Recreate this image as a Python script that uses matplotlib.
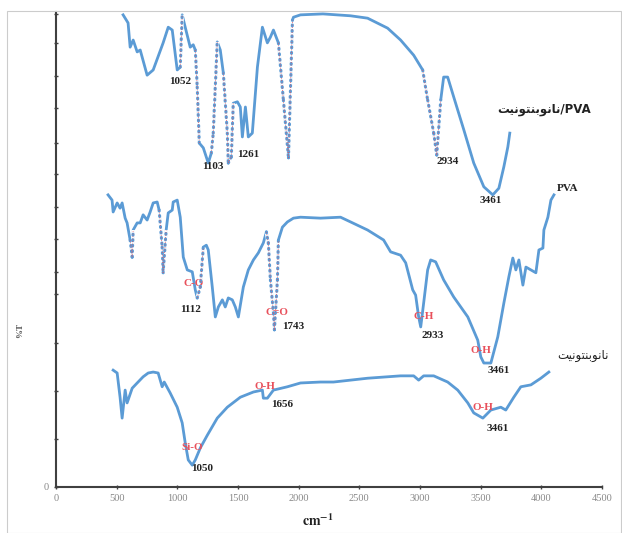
import matplotlib
matplotlib.use("Agg")
import matplotlib.pyplot as plt
from matplotlib.patches import Rectangle

# wavenumber (cm-1) and transmittance values
pva_nano_wn = [553, 594, 611, 636, 669, 694, 751, 801, 883, 925, 958, 999, 1024, 1040, 1065,
               1106, 1131, 1148, 1164, 1181, 1214, 1255, 1280, 1296, 1329, 1354, 1379, 1412,
               1420, 1445, 1461, 1495, 1519, 1536, 1561, 1585, 1618, 1660, 1701, 1742, 1767,
               1792, 1833, 1874, 1916, 1949, 1957, 2015, 2200, 2428, 2568, 2733, 2840, 2948,
               3022, 3063, 3113, 3138, 3171, 3195, 3228, 3278, 3361, 3443, 3526, 3600, 3650,
               3691, 3724, 3740]
pva_nano_t = [99.4, 97.7, 92.6, 94.1, 91.6, 92.0, 86.7, 87.8, 93.5, 96.8, 96.2, 87.8, 88.4, 99.4,
              96.8, 92.6, 93.1, 92.0, 84.2, 72.4, 71.4, 68.2, 70.3, 74.5, 93.7, 92.0, 87.2, 74.5,
              68.2, 69.5, 80.8, 81.1, 80.0, 73.7, 80.0, 73.7, 74.5, 88.4, 96.8, 93.5, 94.7,
              96.2, 93.5, 81.5, 69.3, 98.3, 98.9, 99.4, 99.6, 99.2, 98.7, 96.6, 94.1, 90.9,
              87.8, 81.5, 74.5, 69.9, 81.5, 86.3, 86.3, 82.1, 75.2, 68.2, 63.2, 61.5, 62.9,
              67.4, 71.6, 74.5]

pva_wn = [429, 462, 471, 504, 528, 545, 570, 586, 611, 628, 636, 669, 694, 718, 751, 776, 801,
          834, 850, 875, 883, 908, 925, 958, 966, 999, 1024, 1049, 1082, 1123, 1148, 1164,
          1189, 1214, 1239, 1255, 1288, 1313, 1338, 1371, 1395, 1420, 1453, 1478, 1503, 1544,
          1585, 1627, 1668, 1709, 1734, 1750, 1767, 1792, 1800, 1825, 1833, 1866, 1907, 1957,
          2015, 2180, 2345, 2428, 2568, 2700, 2758, 2840, 2882, 2940, 2964, 2989, 3006, 3030,
          3063, 3088, 3129, 3195, 3278, 3394, 3476, 3501, 3526, 3584, 3641, 3691, 3732, 3765,
          3790, 3815, 3848, 3873, 3914, 3955, 3980, 4013, 4021, 4054, 4079, 4104]
pva_t = [61.5, 60.4, 57.9, 59.8, 58.7, 59.8, 56.6, 55.6, 52.0, 48.4, 54.1, 55.6, 55.6, 57.3,
         56.2, 57.9, 59.8, 60.0, 58.3, 50.5, 45.1, 54.1, 57.7, 58.3, 60.0, 60.4, 56.8, 48.4,
         45.7, 45.3, 41.5, 39.8, 42.1, 50.5, 50.9, 49.9, 42.1, 35.8, 37.9, 39.4, 37.9, 39.8,
         39.4, 37.9, 35.8, 42.1, 45.7, 47.8, 49.3, 51.4, 53.7, 51.4, 43.6, 36.6, 33.1, 43.6,
         52.0, 54.7, 55.8, 56.6, 56.8, 56.6, 56.8, 55.8, 54.1, 52.0, 49.5, 48.8, 47.2, 41.5,
         40.4, 35.8, 33.7, 38.7, 45.7, 47.8, 47.4, 43.6, 40.0, 35.8, 30.9, 27.4, 26.1, 26.1,
         31.6, 38.7, 44.2, 48.2, 45.7, 47.8, 42.5, 46.3, 45.7, 45.1, 49.9, 50.3, 54.1, 56.8,
         60.4, 61.5]

nano_wn = [471, 504, 528, 545, 570, 586, 628, 669, 718, 760, 801, 842, 875, 892, 941, 999, 1040,
           1065, 1090, 1123, 1148, 1189, 1247, 1329, 1412, 1519, 1627, 1701, 1709, 1742, 1792,
           1907, 2015, 2180, 2287, 2568, 2840, 2948, 2989, 3030, 3113, 3228, 3311, 3394, 3443,
           3518, 3584, 3666, 3707, 3773, 3831, 3914, 3996, 4062]
nano_t = [24.6, 24.0, 18.9, 14.5, 20.4, 17.7, 20.8, 21.9, 23.2, 24.0, 24.2, 24.0, 21.1, 22.1,
          19.8, 16.8, 13.5, 9.3, 5.7, 4.6, 5.7, 8.2, 10.9, 14.5, 16.8, 18.9, 20.0, 20.4, 18.7,
          18.7, 20.4, 21.1, 21.9, 22.1, 22.1, 22.9, 23.4, 23.4, 22.5, 23.4, 23.4, 22.1, 20.4,
          17.7, 15.6, 14.5, 16.2, 16.8, 16.2, 18.9, 21.1, 21.5, 22.9, 24.2]

# wavenumber stretches where the original trace is dotted (sparse points, red guide)
pva_nano_dotted = [(1024, 1040), (1148, 1181), (1280, 1329), (1379, 1461), (1833, 1949),
                   (3022, 3171)]
pva_dotted = [(611, 636), (850, 908), (1164, 1214), (1734, 1833)]
nano_dotted = []

# Persian word (نانوبنتونیت) written in shaped, visual order
nano_name = "\ufe96\ufef4\ufee7\ufeee\ufe98\ufee8\ufe91\ufeee\ufee7\ufe8e\ufee7"

peak_labels = [("1052", 1024, 85.3), ("1103", 1296, 67.4), ("1261", 1585, 69.9),
               ("2934", 3228, 68.6), ("3461", 3584, 60.4),
               ("1112", 1106, 37.3), ("1743", 1957, 33.7), ("2933", 3105, 32.0),
               ("3461", 3650, 24.6), ("1656", 1866, 17.3), ("1050", 1206, 3.8),
               ("3461", 3641, 12.4)]
bond_labels = [("C-O", 1131, 42.9), ("C=O", 1825, 36.8), ("C-H", 3030, 35.8),
               ("O-H", 3501, 28.8), ("O-H", 1726, 21.1), ("Si-O", 1123, 8.4),
               ("O-H", 3518, 16.8)]

yticks = [0, 10.1, 20.2, 30.3, 40.6, 45.3, 52.2, 58.9, 65.9, 72.4, 79.8, 86.5, 93.5, 99.6]

plt.rcParams['mathtext.fontset'] = 'stix'
blue = '#5b9bd5'
red = '#e8505b'

fig = plt.figure(figsize=(6.22, 5.33), dpi=100)
fig.patches.append(Rectangle((7 / 622, 0), 614 / 622, 1 - 11 / 533, transform=fig.transFigure,
                             fill=False, edgecolor='#cccccc', linewidth=0.8))
ax = fig.add_axes([56 / 622, 1 - 487 / 533, 546 / 622, 475 / 533])

curves = [(pva_nano_wn, pva_nano_t, pva_nano_dotted),
          (pva_wn, pva_t, pva_dotted),
          (nano_wn, nano_t, nano_dotted)]
for wn, t, dotted in curves:
    ax.plot(wn, t, color=blue, linewidth=2.0, solid_joinstyle='round', zorder=2)
    for i in range(len(wn) - 1):
        if not any(a <= wn[i] and wn[i + 1] <= b for a, b in dotted):
            continue
        seg_x, seg_y = wn[i:i + 2], t[i:i + 2]
        ax.plot(seg_x, seg_y, color='white', linewidth=2.6, zorder=3, solid_capstyle='butt')
        ax.plot(seg_x, seg_y, color=blue, linewidth=2.2, zorder=4,
                linestyle=(0, (0.3, 1.5)), dash_capstyle='round')
        ax.plot(seg_x, seg_y, color=red, linewidth=0.6, zorder=5, linestyle=(0, (1, 2)))

serif = ['Liberation Serif', 'DejaVu Sans']
for txt, x, y in peak_labels:
    ax.text(x, y, txt, ha='center', va='center', fontsize=8, fontweight='bold',
            family=serif, color='#222222')
for txt, x, y in bond_labels:
    ax.text(x, y, txt, ha='center', va='center', fontsize=8, fontweight='bold',
            family=serif, color=red)

ax.text(4021, 79.4, nano_name + "/PVA", ha='center', va='center', fontsize=8.5,
        fontweight='bold', family=['DejaVu Sans'], color='#222222')
ax.text(4219, 62.9, "PVA", ha='center', va='center', fontsize=8, fontweight='bold',
        family=serif, color='#222222')
ax.text(4343, 27.6, nano_name, ha='center', va='center', fontsize=8.5,
        family=['DejaVu Sans'], color='#222222')

ax.set_xlim(0, 4500)
ax.set_ylim(0, 100)
ax.set_xticks(range(0, 4501, 500))
ax.set_yticks(yticks)
ax.set_yticklabels(['0'] + [''] * (len(yticks) - 1))
for s in ['top', 'right']:
    ax.spines[s].set_visible(False)
for s in ['left', 'bottom']:
    ax.spines[s].set_color('#404040')
    ax.spines[s].set_linewidth(1.5)
ax.tick_params(direction='inout', length=3, width=1, color='#404040', labelsize=7.5,
               labelcolor='#888888')
for lab in ax.get_xticklabels() + ax.get_yticklabels():
    lab.set_family('Liberation Serif')

fig.text(318 / 622, 1 - 521 / 533, r'$\mathbf{cm^{-1}}$', ha='center', va='center',
         fontsize=10, color='#222222')
fig.text(20 / 622, 1 - 330 / 533, '%T', rotation=90, ha='center', va='center',
         fontsize=6.5, fontweight='bold', family='Liberation Serif', color='#555555')

fig.savefig('out.png', dpi=100)
